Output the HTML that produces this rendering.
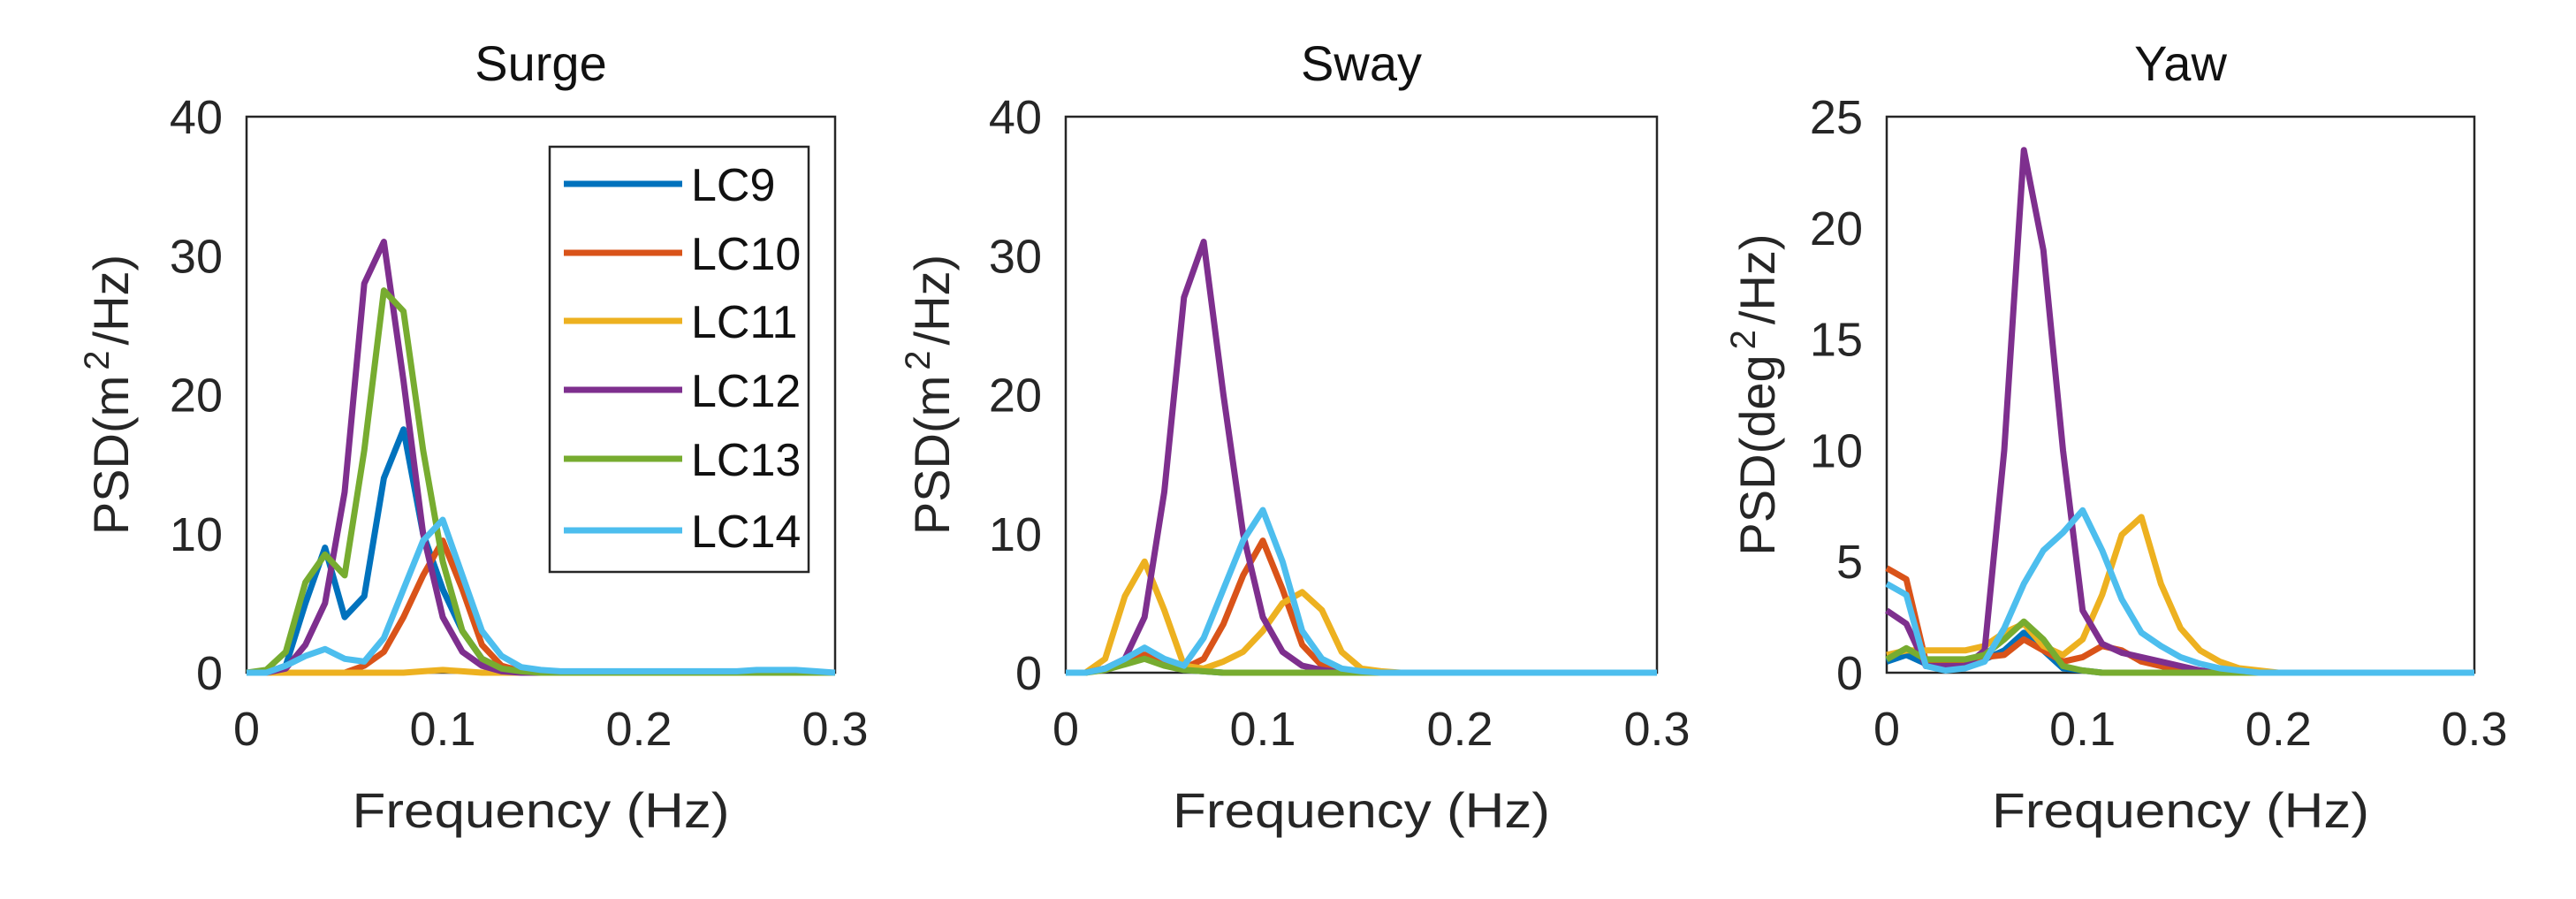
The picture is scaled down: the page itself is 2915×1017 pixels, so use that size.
<!DOCTYPE html>
<html><head><meta charset="utf-8"><style>
html,body{margin:0;padding:0;background:#fff;}
svg{display:block;font-family:"Liberation Sans",sans-serif;}
</style></head><body>
<svg id="fig" width="2915" height="1017" viewBox="0 0 2915 1017"></svg>
<script>
const freq=[0,0.01,0.02,0.03,0.04,0.05,0.06,0.07,0.08,0.09,0.10,0.11,0.12,0.13,0.14,0.15,0.16,0.17,0.18,0.19,0.20,0.21,0.22,0.23,0.24,0.25,0.26,0.27,0.28,0.29,0.30];
const seriesNames=["LC9","LC10","LC11","LC12","LC13","LC14"];
const xTicks=[0,0.1,0.2,0.3];
const xTickLabels=["0","0.1","0.2","0.3"];
const surgeYTicks=[0,10,20,30,40];
const swayYTicks=[0,10,20,30,40];
const yawYTicks=[0,5,10,15,20,25];

const surgeLC9=[0,0,0.5,5,9,4,5.5,14,17.5,10,6,3,1,0.3,0.1,0,0,0,0,0,0,0,0,0,0,0,0,0,0,0,0];
const surgeLC10=[0,0,0,0,0,0,0.5,1.5,4,7,9.5,6,2,0.5,0.1,0,0,0,0,0,0,0,0,0,0,0,0,0,0,0,0];
const surgeLC11=[0,0,0,0,0,0,0,0,0,0.1,0.2,0.1,0,0,0,0,0,0,0,0,0,0,0,0,0,0,0,0,0,0,0];
const surgeLC12=[0,0,0.3,2,5,13,28,31,21,10,4,1.5,0.5,0.1,0,0,0,0,0,0,0,0,0,0,0,0,0,0,0,0,0];
const surgeLC13=[0,0.2,1.5,6.5,8.5,7,16,27.5,26,16,8,3,1,0.3,0.1,0,0,0,0,0,0,0,0,0,0,0,0,0,0,0,0];
const surgeLC14=[0,0,0.5,1.2,1.7,1,0.8,2.5,6,9.5,11,7,3,1.2,0.4,0.2,0.1,0.1,0.1,0.1,0.1,0.1,0.1,0.1,0.1,0.1,0.2,0.2,0.2,0.1,0];

const swayLC9=[0,0,0.3,0.8,1.2,0.6,0.2,0.1,0,0,0,0,0,0,0,0,0,0,0,0,0,0,0,0,0,0,0,0,0,0,0];
const swayLC10=[0,0,0.3,0.8,1.3,0.7,0.3,1,3.5,7,9.5,6,2,0.5,0.1,0,0,0,0,0,0,0,0,0,0,0,0,0,0,0,0];
const swayLC11=[0,0,1,5.5,8,4.5,0.5,0.3,0.8,1.5,3,5,5.8,4.5,1.5,0.3,0.1,0,0,0,0,0,0,0,0,0,0,0,0,0,0];
const swayLC12=[0,0,0.3,1,4,13,27,31,20,10,4,1.5,0.5,0.2,0,0,0,0,0,0,0,0,0,0,0,0,0,0,0,0,0];
const swayLC13=[0,0,0.2,0.6,1,0.5,0.2,0.1,0,0,0,0,0,0,0,0,0,0,0,0,0,0,0,0,0,0,0,0,0,0,0];
const swayLC14=[0,0,0.3,1,1.8,1,0.5,2.5,6,9.5,11.7,8,3,1,0.3,0.1,0,0,0,0,0,0,0,0,0,0,0,0,0,0,0];

const yawLC9=[0.5,0.8,0.4,0.4,0.4,0.6,1,1.8,1,0.2,0.1,0,0,0,0,0,0,0,0,0,0,0,0,0,0,0,0,0,0,0,0];
const yawLC10=[4.7,4.2,0.5,0.5,0.5,0.7,0.8,1.5,1,0.5,0.7,1.2,1,0.5,0.3,0.1,0,0,0,0,0,0,0,0,0,0,0,0,0,0,0];
const yawLC11=[0.8,1,1,1,1,1.2,1.8,2.2,1.2,0.8,1.5,3.5,6.2,7,4,2,1,0.5,0.2,0.1,0,0,0,0,0,0,0,0,0,0,0];
const yawLC12=[2.8,2.2,0.3,0.3,0.3,1,10,23.5,19,10,2.8,1.3,0.9,0.7,0.5,0.3,0.1,0,0,0,0,0,0,0,0,0,0,0,0,0,0];
const yawLC13=[0.6,1.1,0.6,0.6,0.6,0.8,1.5,2.3,1.5,0.3,0.1,0,0,0,0,0,0,0,0,0,0,0,0,0,0,0,0,0,0,0,0];
const yawLC14=[4,3.5,0.3,0.1,0.2,0.5,2,4,5.5,6.3,7.3,5.5,3.3,1.8,1.2,0.7,0.4,0.2,0.1,0,0,0,0,0,0,0,0,0,0,0,0];

const colors=["#0072BD","#D95319","#EDB120","#7E2F8E","#77AC30","#4DBEEE"];
const NS="http://www.w3.org/2000/svg";
const svg=document.getElementById('fig');
function mk(tag,attrs,parent){const e=document.createElementNS(NS,tag);for(const k in attrs)e.setAttribute(k,attrs[k]);(parent||svg).appendChild(e);return e;}

const panels=[
 {key:"surge",title:"Surge",left:279,right:945,ymax:40,yticks:surgeYTicks,data:[surgeLC9,surgeLC10,surgeLC11,surgeLC12,surgeLC13,surgeLC14],ylab:["PSD(m","2","/Hz)"],ylx:125},
 {key:"sway",title:"Sway",left:1206,right:1875,ymax:40,yticks:swayYTicks,data:[swayLC9,swayLC10,swayLC11,swayLC12,swayLC13,swayLC14],ylab:["PSD(m","2","/Hz)"],ylx:1054},
 {key:"yaw",title:"Yaw",left:2135,right:2800,ymax:25,yticks:yawYTicks,data:[yawLC9,yawLC10,yawLC11,yawLC12,yawLC13,yawLC14],ylab:["PSD(deg","2","/Hz)"],ylx:1988}
];
const TOP=132, BOT=761;

panels.forEach(p=>{
 const g=mk('g',{});
 
 
 const xs=v=>p.left+(v/0.3)*(p.right-p.left);
 const ys=v=>BOT-(v/p.ymax)*(BOT-TOP);
 const box=mk('rect',{x:p.left,y:TOP,width:p.right-p.left,height:BOT-TOP,fill:'#fff',stroke:'#262626','stroke-width':2.5},g);
 
 
 const t=mk('text',{x:(p.left+p.right)/2,y:91,'font-size':56,'text-anchor':'middle',fill:'#111'},g);
 t.textContent=p.title;
 
 
 xTicks.forEach((v,i)=>{
  const tx=mk('text',{x:xs(v),y:843,'font-size':54,'text-anchor':'middle',fill:'#262626'},g);
  tx.textContent=xTickLabels[i];
  
  
 });
 p.yticks.forEach(v=>{
  const ty=mk('text',{x:p.left-27,y:ys(v)+19,'font-size':54,'text-anchor':'end',fill:'#262626'},g);
  ty.textContent=String(v);
  
  
 });
 const xl=mk('text',{x:(p.left+p.right)/2,y:936,'font-size':56,'text-anchor':'middle',fill:'#262626',textLength:427,lengthAdjust:'spacingAndGlyphs'},g);
 xl.textContent="Frequency (Hz)";
 
 
 const yl=mk('text',{x:0,y:0,'font-size':56,'text-anchor':'middle',fill:'#262626',transform:`translate(${p.ylx+20},${(TOP+BOT)/2}) rotate(-90)`},g);
 
 
 const s1=mk('tspan',{},yl);s1.textContent=p.ylab[0];
 const s2=mk('tspan',{dx:6,dy:-22,'font-size':40},yl);s2.textContent=p.ylab[1];
 const s3=mk('tspan',{dx:6,dy:22},yl);s3.textContent=p.ylab[2];
 p.data.forEach((arr,si)=>{
  const pts=arr.map((v,i)=>xs(freq[i]).toFixed(1)+','+ys(v).toFixed(1)).join(' ');
  const pl=mk('polyline',{points:pts,fill:'none',stroke:colors[si],'stroke-width':7,'stroke-linejoin':'round'},g);
  
  
 });
});

// legend
const lg=mk('g',{});


const lb=mk('rect',{x:622,y:166,width:293,height:481,fill:'#fff',stroke:'#262626','stroke-width':2.5},lg);


const legY=[208,286,363,441,519,600];
seriesNames.forEach((n,i)=>{
 const ln=mk('line',{x1:638,x2:772,y1:legY[i],y2:legY[i],stroke:colors[i],'stroke-width':7},lg);
 
 
 const tx=mk('text',{x:782,y:legY[i]+19,'font-size':52,fill:'#111'},lg);
 tx.textContent=n;
 
 
});
</script>
</body></html>
